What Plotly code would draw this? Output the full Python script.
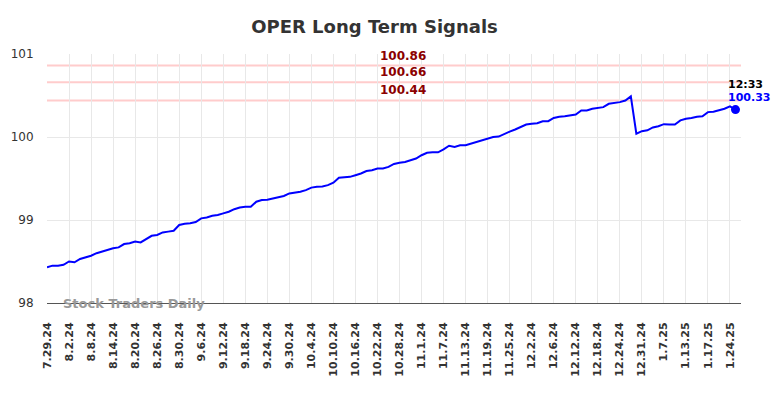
import plotly.graph_objects as go

title_text = "OPER Long Term Signals"

tick_labels = ["7.29.24", "8.2.24", "8.8.24", "8.14.24", "8.20.24", "8.26.24", "8.30.24",
               "9.6.24", "9.12.24", "9.18.24", "9.24.24", "9.30.24", "10.4.24", "10.10.24",
               "10.16.24", "10.22.24", "10.28.24", "11.1.24", "11.7.24", "11.13.24",
               "11.19.24", "11.25.24", "12.2.24", "12.6.24", "12.12.24", "12.18.24",
               "12.24.24", "12.31.24", "1.7.25", "1.13.25", "1.17.25", "1.24.25"]
tick_step = 4

prices = [98.43, 98.45, 98.45, 98.46, 98.50, 98.49, 98.53, 98.55, 98.57, 98.60,
          98.62, 98.64, 98.66, 98.67, 98.71, 98.72, 98.74, 98.73, 98.77, 98.81,
          98.82, 98.85, 98.86, 98.87, 98.94, 98.955, 98.96, 98.975, 99.02, 99.03,
          99.05, 99.06, 99.08, 99.10, 99.13, 99.15, 99.16, 99.16, 99.22, 99.24,
          99.245, 99.26, 99.27, 99.29, 99.32, 99.33, 99.34, 99.36, 99.39, 99.40,
          99.405, 99.42, 99.45, 99.51, 99.515, 99.52, 99.54, 99.56, 99.59, 99.60,
          99.62, 99.62, 99.64, 99.675, 99.69, 99.70, 99.72, 99.74, 99.78, 99.81,
          99.815, 99.815, 99.85, 99.895, 99.88, 99.90, 99.90, 99.92, 99.94, 99.965,
          99.98, 100.00, 100.005, 100.04, 100.065, 100.09, 100.12, 100.15, 100.16, 100.165,
          100.19, 100.19, 100.23, 100.245, 100.25, 100.26, 100.27, 100.32, 100.32, 100.34,
          100.35, 100.36, 100.40, 100.41, 100.42, 100.44, 100.49, 100.04, 100.07, 100.08,
          100.115, 100.13, 100.155, 100.15, 100.15, 100.20, 100.22, 100.23, 100.245, 100.25,
          100.30, 100.305, 100.325, 100.34, 100.37, 100.33]

signal_levels = [100.86, 100.66, 100.44]
signal_labels = ["100.86", "100.66", "100.44"]

last_time = "12:33"
last_label = "100.33"

y_ticks = [98, 99, 100, 101]
watermark = "Stock Traders Daily"

x_idx = list(range(len(prices)))
tickvals = list(range(0, len(tick_labels) * tick_step, tick_step))

fig = go.Figure()
fig.add_trace(go.Scatter(x=x_idx, y=prices, mode="lines",
                         line=dict(color="#0000ff", width=2), hoverinfo="skip", cliponaxis=False))
fig.add_trace(go.Scatter(x=[x_idx[-1]], y=[prices[-1]], mode="markers",
                         marker=dict(color="#0000ff", size=9), hoverinfo="skip", cliponaxis=False))

shapes = []
annotations = []
for lvl, lab in zip(signal_levels, signal_labels):
    shapes.append(dict(type="line", xref="paper", x0=0, x1=1, yref="y", y0=lvl, y1=lvl,
                       line=dict(color="#ffcccc", width=2), layer="below"))
    annotations.append(dict(xref="paper", x=0.513, yref="y", y=lvl, text=lab,
                            showarrow=False, yanchor="bottom", yshift=1,
                            font=dict(family="DejaVu Sans", size=12, color="#8b0000", weight="bold")))

annotations.append(dict(xref="x", x=x_idx[-1], yref="y", y=prices[-1], text=last_time,
                        showarrow=False, xanchor="left", xshift=-9, yanchor="bottom", yshift=17,
                        font=dict(family="DejaVu Sans", size=11, color="#000000", weight="bold")))
annotations.append(dict(xref="x", x=x_idx[-1], yref="y", y=prices[-1], text=last_label,
                        showarrow=False, xanchor="left", xshift=-9, yanchor="bottom", yshift=4,
                        font=dict(family="DejaVu Sans", size=11, color="#0000ff", weight="bold")))
annotations.append(dict(xref="paper", x=0.02, yref="y", y=98, text=watermark,
                        showarrow=False, xanchor="left", yanchor="middle",
                        font=dict(family="DejaVu Sans", size=13, color="#999999", weight="bold")))

# page body has an 8px default margin, so the figure is sized to fill the rest of the window
fig.update_layout(
    width=776, height=390,
    margin=dict(l=39, r=43, t=46, b=95, autoexpand=False),
    paper_bgcolor="white", plot_bgcolor="white",
    showlegend=False,
    title=dict(text=title_text, x=0.4723, xref="container", xanchor="center",
               y=0.952, yref="container", yanchor="middle",
               font=dict(family="DejaVu Sans", size=18, color="#333333", weight="bold")),
    xaxis=dict(range=[0, len(prices)], tickvals=tickvals, ticktext=tick_labels,
               tickangle=-90, showgrid=True, gridcolor="#e8e8e8", gridwidth=1,
               zeroline=False, showline=True, linecolor="#555555", linewidth=1,
               ticks="outside", ticklen=0, ticklabelstandoff=14, automargin=False,
               tickfont=dict(family="DejaVu Sans", size=11, color="#333333", weight="bold")),
    yaxis=dict(range=[98, 101], tickvals=y_ticks, showgrid=True, gridcolor="#e8e8e8",
               gridwidth=1, zeroline=False, showline=False, automargin=False,
               ticks="outside", ticklen=0, ticklabelstandoff=10,
               tickfont=dict(family="DejaVu Sans", size=12, color="#333333")),
    shapes=shapes, annotations=annotations,
)

fig.write_html("out.html")
